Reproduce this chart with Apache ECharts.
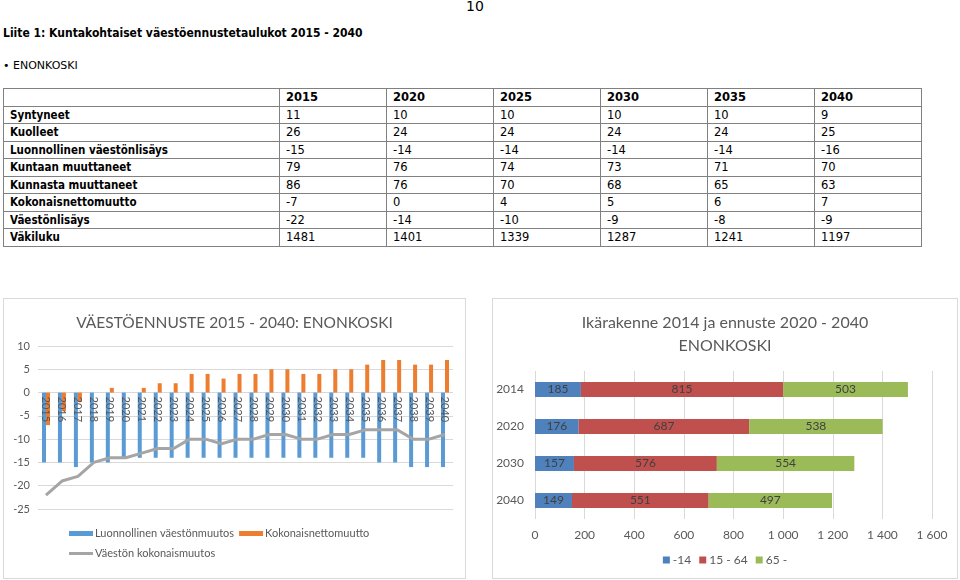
<!DOCTYPE html>
<html>
<head>
<meta charset="utf-8">
<script src="https://cdn.jsdelivr.net/npm/echarts@6/dist/echarts.min.js"></script>
<style>
  html, body { margin: 0; padding: 0; background: #fff; }
  body { width: 960px; height: 580px; position: relative; overflow: hidden; font-family: "DejaVu Sans", sans-serif; color: #000; }
  #pagenum { position: absolute; left: 466px; top: -2px; font-size: 14px; }
  #title { position: absolute; left: 3px; top: 26px; font-size: 12px; font-weight: bold; font-family: "DejaVu Sans Condensed", "DejaVu Sans", sans-serif; }
  #bullet { position: absolute; left: 3px; top: 59px; font-size: 11px; }
  #tbl { position: absolute; left: 3px; top: 88px; border-collapse: collapse; font-size: 11.5px; }
  #tbl td { border: 1px solid #808080; height: 17.5px; padding: 0 0 0 6px; line-height: 16px; vertical-align: middle; box-sizing: border-box; }
  #tbl tr.hdr td { font-weight: bold; }
  #tbl td.lbl { font-weight: bold; width: 276px; font-family: "DejaVu Sans Condensed", "DejaVu Sans", sans-serif; }
  #tbl td.val { width: 107px; }
  .chartbox { position: absolute; border: 1px solid #d9d9d9; box-sizing: border-box; }
  #c1 { left: 3px; top: 298px; width: 463px; height: 281px; }
  #c2 { left: 492px; top: 298px; width: 466px; height: 281px; }
</style>
</head>
<body>
<div id="pagenum">10</div>
<div id="title">Liite 1: Kuntakohtaiset väestöennustetaulukot 2015 - 2040</div>
<div id="bullet">• ENONKOSKI</div>
<table id="tbl"></table>
<div id="c1" class="chartbox"></div>
<div id="c2" class="chartbox"></div>
<script>
// ---- Table data ----
const tableYears = ['2015', '2020', '2025', '2030', '2035', '2040'];
const rowLabels = ['Syntyneet', 'Kuolleet', 'Luonnollinen väestönlisäys', 'Kuntaan muuttaneet', 'Kunnasta muuttaneet', 'Kokonaisnettomuutto', 'Väestönlisäys', 'Väkiluku'];
const syntyneet = [11, 10, 10, 10, 10, 9];
const kuolleet = [26, 24, 24, 24, 24, 25];
const luonnollinenLisays = [-15, -14, -14, -14, -14, -16];
const kuntaanMuuttaneet = [79, 76, 74, 73, 71, 70];
const kunnastaMuuttaneet = [86, 76, 70, 68, 65, 63];
const kokonaisnettomuuttoT = [-7, 0, 4, 5, 6, 7];
const vaestonlisays = [-22, -14, -10, -9, -8, -9];
const vakiluku = [1481, 1401, 1339, 1287, 1241, 1197];

// ---- Chart 1 data ----
const years = ['2015','2016','2017','2018','2019','2020','2021','2022','2023','2024','2025','2026','2027','2028','2029','2030','2031','2032','2033','2034','2035','2036','2037','2038','2039','2040'];
const luonnollinen = [-15,-15,-16,-15,-15,-14,-14,-14,-14,-14,-14,-14,-14,-14,-14,-14,-14,-14,-14,-14,-14,-15,-15,-16,-16,-16];
const nettomuutto = [-7,-4,-2,0,1,0,1,2,2,4,4,3,4,4,5,5,4,4,5,5,6,7,7,6,6,7];
const kokonaismuutos = [-22,-19,-18,-15,-14,-14,-13,-12,-12,-10,-10,-11,-10,-10,-9,-9,-10,-10,-9,-9,-8,-8,-8,-10,-10,-9];
const yTicks = { min: -25, max: 10, step: 5 };

// ---- Chart 2 data ----
const ageYears = ['2014', '2020', '2030', '2040'];
const age0_14 = [185, 176, 157, 149];
const age15_64 = [815, 687, 576, 551];
const age65 = [503, 538, 554, 497];

// Build table
(function () {
  const rowsData = [syntyneet, kuolleet, luonnollinenLisays, kuntaanMuuttaneet, kunnastaMuuttaneet, kokonaisnettomuuttoT, vaestonlisays, vakiluku];
  const t = document.getElementById('tbl');
  let html = '<tr class="hdr"><td class="lbl"></td>' + tableYears.map(y => '<td class="val">' + y + '</td>').join('') + '</tr>';
  rowLabels.forEach((lab, i) => {
    html += '<tr><td class="lbl">' + lab + '</td>' + rowsData[i].map(v => '<td class="val">' + v + '</td>').join('') + '</tr>';
  });
  t.innerHTML = html;
})();

const FONT = 'Lato, "Open Sans", sans-serif';
const TXT = '#595959';

// Chart 1
const g1 = { top: 47, height: 163 };
// distance from bottom axis to the zero line (labels sit just under the zero line, like the original)
const zeroFromBottom = g1.height * (0 - yTicks.min) / (yTicks.max - yTicks.min);
const c1 = echarts.init(document.getElementById('c1'), null, { renderer: 'canvas' });
c1.setOption({
  animation: false,
  textStyle: { fontFamily: FONT },
  title: {
    text: 'VÄESTÖENNUSTE 2015 - 2040: ENONKOSKI',
    left: 'center', top: 11,
    textStyle: { fontFamily: FONT, fontSize: 15.5, fontWeight: 'normal', color: TXT }
  },
  legend: [
    {
      data: ['Luonnollinen väestönmuutos', 'Kokonaisnettomuutto'],
      left: 65, top: 229, padding: 0, itemWidth: 24, itemHeight: 5, itemGap: 5,
      textStyle: { fontFamily: FONT, fontSize: 11, color: TXT, padding: [0, 0, 0, -3] },
      icon: 'rect'
    },
    {
      data: ['Väestön kokonaismuutos'],
      left: 65, top: 249, padding: 0, itemWidth: 24, itemHeight: 3, icon: 'rect',
      textStyle: { fontFamily: FONT, fontSize: 11, color: TXT, padding: [0, 0, 0, -3] }
    }
  ],
  grid: { left: 34, right: 12, top: g1.top, height: g1.height },
  xAxis: {
    type: 'category', data: years, z: 10,
    axisLine: { show: false, onZero: false },
    axisTick: { show: false },
    axisLabel: { rotate: -90, interval: 0, fontSize: 11, color: TXT, fontFamily: FONT, margin: -(zeroFromBottom - 4) }
  },
  yAxis: {
    type: 'value', min: yTicks.min, max: yTicks.max, interval: yTicks.step,
    axisLine: { show: false }, axisTick: { show: false },
    axisLabel: { fontSize: 11, color: TXT, fontFamily: FONT, margin: 8 },
    splitLine: { lineStyle: { color: '#d9d9d9' } }
  },
  series: [
    { name: 'Luonnollinen väestönmuutos', type: 'bar', data: luonnollinen, barWidth: 4, barGap: '0%', itemStyle: { color: '#5b9bd5' } },
    { name: 'Kokonaisnettomuutto', type: 'bar', data: nettomuutto, barWidth: 4, barGap: '0%', itemStyle: { color: '#ed7d31' } },
    { name: 'Väestön kokonaismuutos', type: 'line', data: kokonaismuutos, symbol: 'none', lineStyle: { color: '#a5a5a5', width: 3 }, itemStyle: { color: '#a5a5a5' }, z: 5 }
  ]
});

// Chart 2
const c2 = echarts.init(document.getElementById('c2'), null, { renderer: 'canvas' });
const lbl = { show: true, position: 'inside', color: '#404040', fontSize: 12, fontFamily: FONT };
c2.setOption({
  animation: false,
  textStyle: { fontFamily: FONT },
  title: {
    text: 'Ikärakenne 2014 ja ennuste 2020 - 2040\nENONKOSKI',
    left: 'center', top: 7,
    textStyle: { fontFamily: FONT, fontSize: 16, fontWeight: 'normal', color: TXT, lineHeight: 23 }
  },
  legend: {
    data: ['-14', '15 - 64', '65 -'],
    left: 'center', top: 255, padding: 0, itemWidth: 7, itemHeight: 7, itemGap: 8, icon: 'rect',
    textStyle: { fontFamily: FONT, fontSize: 12, color: TXT, padding: [0, 0, 0, -2] }
  },
  grid: { left: 42, right: 25, top: 72, height: 148 },
  xAxis: {
    type: 'value', min: 0, max: 1600, interval: 200,
    axisLine: { show: false }, axisTick: { show: false },
    axisLabel: {
      fontSize: 12, color: TXT, fontFamily: FONT, margin: 10,
      formatter: v => String(v).replace(/\B(?=(\d{3})+(?!\d))/g, ' ')
    },
    splitLine: { lineStyle: { color: '#d9d9d9' } }
  },
  yAxis: {
    type: 'category', data: ageYears, inverse: true,
    axisLine: { show: false }, axisTick: { show: false },
    axisLabel: { fontSize: 12, color: TXT, fontFamily: FONT, margin: 11 }
  },
  series: [
    { name: '-14', type: 'bar', stack: 'a', data: age0_14, barWidth: 15, itemStyle: { color: '#4f81bd' }, label: lbl },
    { name: '15 - 64', type: 'bar', stack: 'a', data: age15_64, barWidth: 15, itemStyle: { color: '#c0504d' }, label: lbl },
    { name: '65 -', type: 'bar', stack: 'a', data: age65, barWidth: 15, itemStyle: { color: '#9bbb59' }, label: lbl }
  ]
});
</script>
</body>
</html>
